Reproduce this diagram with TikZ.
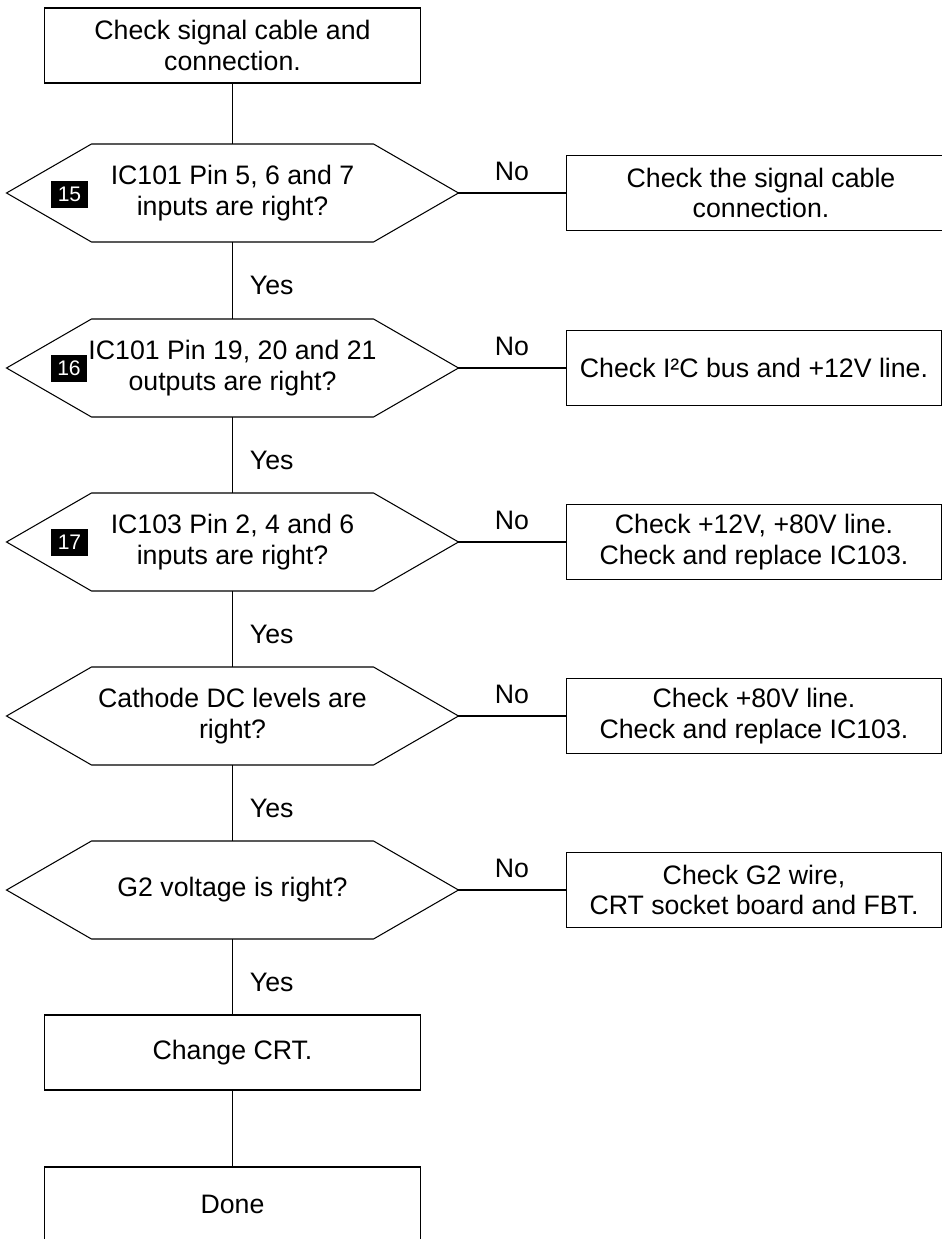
\documentclass[tikz,border=0pt]{standalone}
\usepackage{fontspec}
\setmainfont{Liberation Sans}
\begin{document}
\begin{tikzpicture}[x=0.02cm, y=-0.02cm, line width=0.6pt,
  every node/.style={font=\fontsize{15.2}{17.2}\selectfont},
  stepbox/.style={draw, rectangle, minimum width=7.54cm, minimum height=1.5cm, align=center, inner sep=0pt},
  fixbox/.style={draw, rectangle, minimum width=7.52cm, minimum height=1.5cm, align=center, inner sep=0pt},
  query/.style={rectangle, minimum width=9.02cm, minimum height=1.94cm, align=center, inner sep=0pt},
  badge/.style={fill=black, text=white, minimum width=0.74cm, minimum height=0.54cm, inner sep=0pt, font=\fontsize{12}{14}\selectfont},
  nolbl/.style={midway, above=6.8pt, inner sep=0pt},
  yeslbl/.style={pos=0.57, right=9.6pt, inner sep=0pt}]
  \useasboundingbox (0,0) rectangle (941,1239);
  % main column
  \node[stepbox] (start) at (232.5,45.5) {Check signal cable and\\connection.};
  \node[query] (q1) at (232.5,193) {IC101 Pin 5, 6 and 7\\inputs are right?};
  \node[query] (q2) at (232.5,368) {IC101 Pin 19, 20 and 21\\outputs are right?};
  \node[query] (q3) at (232.5,542) {IC103 Pin 2, 4 and 6\\inputs are right?};
  \node[query] (q4) at (232.5,716) {Cathode DC levels are\\right?};
  \node[query] (q5) at (232.5,890) {G2 voltage is right?};
  \node[stepbox] (crt) at (232.5,1052.5) {Change CRT.};
  \node[stepbox] (done) at (232.5,1204.5) {Done};
  \foreach \i in {1,...,5}
    \draw (q\i.west) -- ([xshift=1.7cm]q\i.north west) -- ([xshift=-1.7cm]q\i.north east)
      -- (q\i.east) -- ([xshift=-1.7cm]q\i.south east) -- ([xshift=1.7cm]q\i.south west) -- cycle;
  % test point marks
  \node[badge] (b15) at (69.5,194.5) {15};
  \node[badge] (b16) at (69,368.5) {16};
  \node[badge] (b17) at (69.5,542.5) {17};
  % remedies
  \node[fixbox, minimum width=7.8cm] (r1) at (761,193) {Check the signal cable\\connection.};
  \node[fixbox] (r2) at (754,368) {Check I²C bus and +12V line.};
  \node[fixbox] (r3) at (754,542) {Check +12V, +80V line.\\Check and replace IC103.};
  \node[fixbox] (r4) at (754,716) {Check +80V line.\\Check and replace IC103.};
  \node[fixbox] (r5) at (754,890) {Check G2 wire,\\CRT socket board and FBT.};
  % connectors
  \draw (start) -- (q1);
  \draw (q1) -- node[yeslbl] {Yes} (q2);
  \draw (q2) -- node[yeslbl] {Yes} (q3);
  \draw (q3) -- node[yeslbl] {Yes} (q4);
  \draw (q4) -- node[yeslbl] {Yes} (q5);
  \draw (q5) -- node[yeslbl] {Yes} (crt);
  \draw (crt) -- (done);
  \foreach \i in {1,...,5}
    \draw (q\i.east) -- node[nolbl] {No} (r\i.west);
\end{tikzpicture}
\end{document}
